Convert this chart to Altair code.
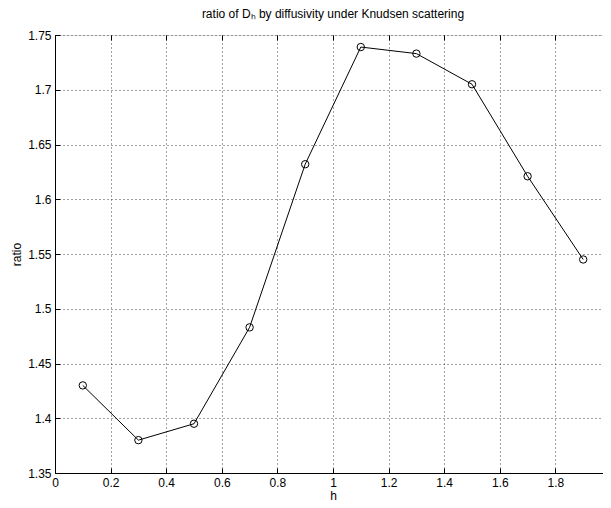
import altair as alt
import pandas as pd

# ---- data ----
h_values = [0.1, 0.3, 0.5, 0.7, 0.9, 1.1, 1.3, 1.5, 1.7, 1.9]
ratio_values = [1.430, 1.380, 1.395, 1.483, 1.632, 1.739, 1.733, 1.705, 1.621, 1.545]
x_ticks = [0, 0.2, 0.4, 0.6, 0.8, 1, 1.2, 1.4, 1.6, 1.8, 2]
y_ticks = [1.35, 1.4, 1.45, 1.5, 1.55, 1.6, 1.65, 1.7, 1.75]
x_domain = [0, 2]
y_domain = [1.35, 1.75]
title_text = "ratio of Dₕ by diffusivity under Knudsen scattering"
x_title = "h"
y_title = "ratio"

W, H = 556, 438
FONT = "Liberation Sans"
GRID = "#444444"

df = pd.DataFrame({"h": h_values, "ratio": ratio_values})
xs = alt.Scale(domain=x_domain, nice=False, zero=False)
ys = alt.Scale(domain=y_domain, nice=False, zero=False)


def tick_axis(orient, values, offset):
    return alt.Axis(orient=orient, offset=offset, values=values, labels=False,
                    domain=False, grid=False, ticks=True, tickSize=5,
                    tickColor="black", tickWidth=1, title="")


common = dict(format="~g", labelFlush=False, labelOverlap=False, ticks=False,
              domain=True, domainColor="black", grid=True, gridDash=[1, 3],
              gridColor=GRID, labelPadding=4, labelFont=FONT, labelFontSize=12,
              labelColor="black", titleFont=FONT, titleFontSize=12,
              titleFontWeight="normal", titleColor="black")

main_x = alt.Axis(orient="bottom", values=x_ticks, title=x_title, titlePadding=2, **common)
main_y = alt.Axis(orient="left", values=y_ticks, title=y_title, titlePadding=4, **common)

base = alt.Chart(df)

line = base.mark_line(
    color="black", strokeWidth=1,
    point=alt.OverlayMarkDef(shape="circle", filled=False, color="black",
                             size=55, strokeWidth=1, opacity=1),
).encode(
    x=alt.X("h:Q", scale=xs, axis=main_x),
    y=alt.Y("ratio:Q", scale=ys, axis=main_y),
)

# inward ticks on bottom and left edges
ticks_a = base.mark_point(opacity=0).encode(
    x=alt.X("h:Q", scale=xs, axis=tick_axis("top", x_ticks, -H)),
    y=alt.Y("ratio:Q", scale=ys, axis=tick_axis("right", y_ticks, -W)),
)
# inward ticks on top and right edges
ticks_b = base.mark_point(opacity=0).encode(
    x=alt.X("h:Q", scale=xs, axis=tick_axis("bottom", x_ticks, -H)),
    y=alt.Y("ratio:Q", scale=ys, axis=tick_axis("left", y_ticks, -W)),
)

chart = alt.layer(line, ticks_a, ticks_b).resolve_axis(
    x="independent", y="independent"
).properties(
    width=W, height=H,
    title=alt.TitleParams(text=title_text, font=FONT, fontSize=12,
                          fontWeight="normal", anchor="middle", offset=8,
                          color="black"),
    autosize=alt.AutoSizeParams(type="none"),
    padding={"left": 47, "top": 27, "right": -8, "bottom": 27},
).configure_view(
    stroke="black", strokeWidth=1
).configure(background="white")

chart.save("out.html", embed_options={"renderer": "svg", "actions": False})
